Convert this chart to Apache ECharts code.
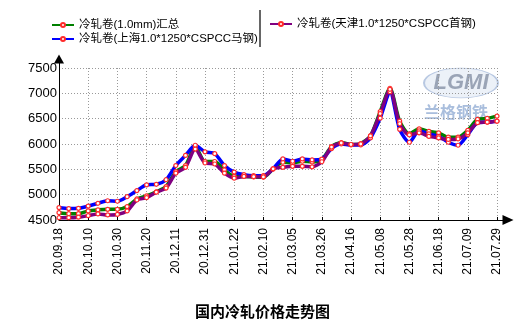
<!DOCTYPE html>
<html><head><meta charset="utf-8">
<script src="https://cdn.jsdelivr.net/npm/echarts@6/dist/echarts.min.js"></script>
<style>html,body{margin:0;padding:0;background:#fff}#c{width:525px;height:326px}</style>
</head><body><div id="c"></div>
<script>
const dates = ['20.09.18','20.09.25','20.09.30','20.10.10','20.10.16','20.10.23','20.10.30','20.11.06','20.11.13','20.11.20','20.11.27','20.12.04','20.12.11','20.12.18','20.12.25','20.12.31','21.01.08','21.01.15','21.01.22','21.01.29','21.02.05','21.02.10','21.02.19','21.02.26','21.03.05','21.03.12','21.03.19','21.03.26','21.04.02','21.04.09','21.04.16','21.04.23','21.04.30','21.05.08','21.05.14','21.05.21','21.05.28','21.06.04','21.06.11','21.06.18','21.06.25','21.07.02','21.07.09','21.07.16','21.07.23','21.07.29'];
const seriesNames = ['冷轧卷(1.0mm)汇总','冷轧卷(上海1.0*1250*CSPCC马钢)','冷轧卷(天津1.0*1250*CSPCC首钢)'];
const totalAvg = [4645,4625,4625,4680,4700,4710,4710,4765,4915,4975,5055,5160,5455,5575,5955,5655,5655,5490,5360,5360,5350,5345,5510,5640,5625,5660,5645,5690,5950,6030,5990,6010,6160,6640,7100,6450,6200,6300,6250,6220,6135,6135,6270,6485,6505,6550];
const shanghai = [4745,4725,4730,4775,4830,4880,4870,4960,5080,5195,5205,5295,5575,5775,5975,5845,5810,5575,5445,5395,5375,5375,5510,5705,5660,5705,5685,5700,5910,6000,5980,5980,6120,6510,7030,6290,6035,6260,6200,6150,6035,5975,6185,6420,6430,6450];
const tianjin = [4545,4545,4555,4585,4620,4600,4610,4680,4895,4940,5050,5130,5425,5540,5900,5625,5605,5425,5325,5360,5355,5350,5510,5540,5560,5560,5550,5650,5940,6020,5990,6000,6160,6600,7080,6400,6180,6220,6150,6120,6090,6100,6220,6420,6430,6450];
const yMin = 4500, yMax = 7500, yStep = 500;
const titleText = '国内冷轧价格走势图';

const colors = ['#008000','#0000ff','#800080'];
const font = '"Liberation Sans", Arial, "Noto Sans CJK SC", sans-serif';
function mk(name, data, color) {
  return {
    name: name, type: 'line', data: data, smooth: 0.25,
    symbol: 'circle', symbolSize: 4, showSymbol: true,
    lineStyle: { color: color, width: 3.5 },
    itemStyle: { color: '#fff', borderColor: '#ff2a2a', borderWidth: 1.2 },
    emphasis: { disabled: true }
  };
}
const chart = echarts.init(document.getElementById('c'), null, { renderer: 'canvas' });
chart.setOption({
  animation: false,
  backgroundColor: '#fff',
  textStyle: { fontFamily: font },
  title: { text: titleText, left: 'center', top: 299, textStyle: { fontSize: 15, fontWeight: 'bold', color: '#000', fontFamily: '"Noto Sans CJK SC", sans-serif' } },
  legend: [
    { data: [seriesNames[0], seriesNames[1]], orient: 'vertical', left: 46, top: 13, itemWidth: 22, itemHeight: 5, itemGap: 0,
      textStyle: { fontSize: 11.5, color: '#000', fontFamily: font, lineHeight: 14 } },
    { data: [seriesNames[2]], orient: 'vertical', left: 264, top: 12, itemWidth: 22, itemHeight: 5, itemGap: 0,
      textStyle: { fontSize: 11.5, color: '#000', fontFamily: font, lineHeight: 14 } }
  ],
  grid: { left: 59, right: 28, top: 68, bottom: 106, containLabel: false },
  xAxis: {
    type: 'category', data: dates, boundaryGap: false,
    axisLine: { lineStyle: { color: '#000', width: 1 }, symbol: ['none', 'triangle'], symbolSize: [10, 11], symbolOffset: [0, 11] },
    axisTick: { show: true, inside: true, length: 3, interval: 2, lineStyle: { color: '#000' } },
    axisLabel: { interval: 2, rotate: 90, fontSize: 12, color: '#000', margin: 8, fontFamily: font },
    splitLine: { show: true, interval: 2, lineStyle: { color: '#999', type: [1, 2], width: 1 } }
  },
  yAxis: {
    type: 'value', min: yMin, max: yMax, interval: yStep,
    axisLine: { show: true, lineStyle: { color: '#000', width: 1 }, symbol: ['none', 'triangle'], symbolSize: [10, 9], symbolOffset: [0, 9] },
    axisTick: { show: false },
    axisLabel: { fontSize: 13, color: '#000', margin: 2, fontFamily: font, formatter: function (v) { return String(v); } },
    splitLine: { show: true, lineStyle: { color: '#999', type: [1, 2], width: 1 } }
  },
  graphic: [
    { type: 'line', shape: { x1: 260, y1: 10, x2: 260, y2: 47 }, style: { stroke: '#333', lineWidth: 1.5 }, silent: true },
    { type: 'line', shape: { x1: 497, y1: 220.5, x2: 504, y2: 220.5 }, style: { stroke: '#000', lineWidth: 1 }, silent: true },
    { type: 'line', shape: { x1: 59.5, y1: 68, x2: 59.5, y2: 62 }, style: { stroke: '#000', lineWidth: 1 }, silent: true },
    { type: 'circle', shape: { cx: 0, cy: 0, r: 37 }, x: 461, y: 83, scaleX: 1, scaleY: 0.4, style: { fill: 'rgba(200,215,235,0.35)', stroke: '#b8c8e2', lineWidth: 2 }, silent: true, z: 0 },
    { type: 'text', x: 461, y: 83, style: { text: 'LGMI', fill: '#9aa4b6', font: 'italic bold 22px "Liberation Sans", Arial', align: 'center', verticalAlign: 'middle' }, silent: true, z: 0 },
    { type: 'text', x: 456, y: 112, style: { text: '兰格钢铁', fill: '#a9bedd', font: 'bold 16px "Noto Sans CJK SC"', align: 'center', verticalAlign: 'middle' }, silent: true, z: 0 }
  ],
  series: [
    mk(seriesNames[0], totalAvg, colors[0]),
    mk(seriesNames[1], shanghai, colors[1]),
    mk(seriesNames[2], tianjin, colors[2])
  ]
});
</script></body></html>
